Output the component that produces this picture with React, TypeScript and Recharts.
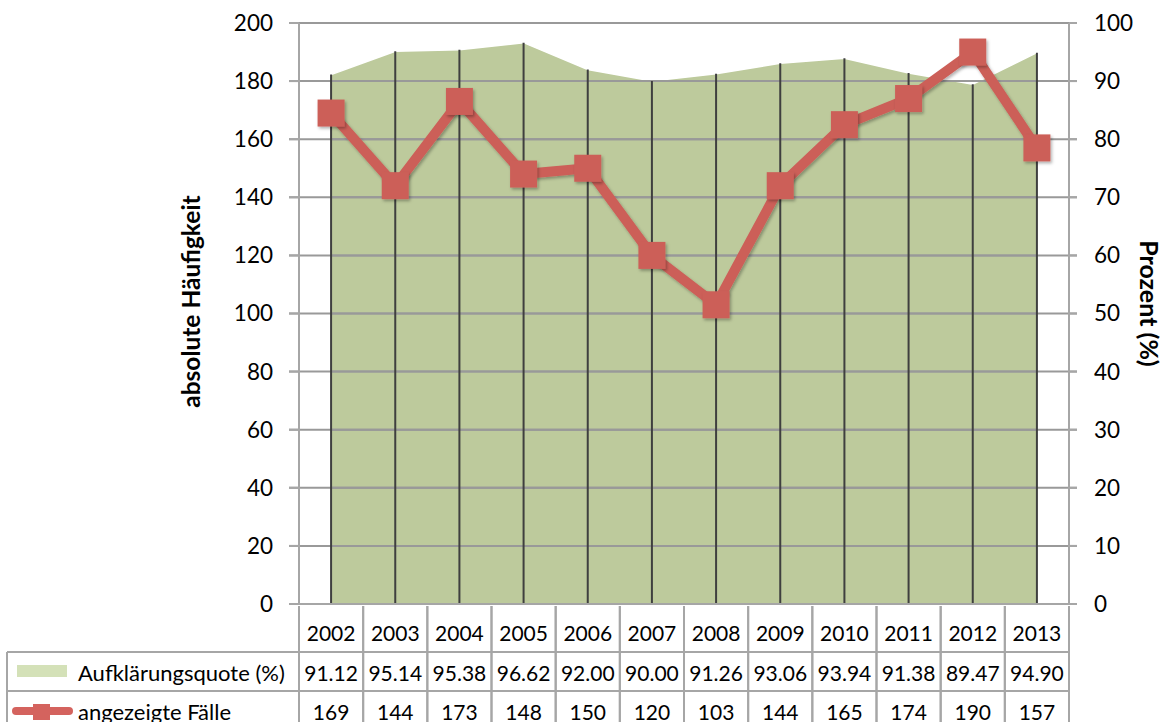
import React from 'react';
import { ComposedChart, Area, Line, XAxis, YAxis, ReferenceLine } from 'recharts';

const years = ['2002', '2003', '2004', '2005', '2006', '2007', '2008', '2009', '2010', '2011', '2012', '2013'];
const quoteValues = [91.12, 95.14, 95.38, 96.62, 92.0, 90.0, 91.26, 93.06, 93.94, 91.38, 89.47, 94.9];
const quoteLabels = ['91.12', '95.14', '95.38', '96.62', '92.00', '90.00', '91.26', '93.06', '93.94', '91.38', '89.47', '94.90'];
const caseValues = [169, 144, 173, 148, 150, 120, 103, 144, 165, 174, 190, 157];
const leftTicks = [0, 20, 40, 60, 80, 100, 120, 140, 160, 180, 200];
const rightTicks = [0, 10, 20, 30, 40, 50, 60, 70, 80, 90, 100];

const seriesQuote = 'Aufklärungsquote (%)';
const seriesCases = 'angezeigte Fälle';
const leftTitle = 'absolute Häufigkeit';
const rightTitle = 'Prozent (%)';

const data = years.map((y, i) => ({ year: y, quote: quoteValues[i], cases: caseValues[i] }));

const W = 1173;
const H = 722;
const LEFT_W = 299;
const RIGHT_W = 104;
const PLOT_L = LEFT_W;
const PLOT_R = W - RIGHT_W;

const FONT = 'Lato, "Open Sans", sans-serif';
const GRID = '#a6a6a6';
const GRID_IN = '#999999';
const GREEN = '#bdca9c';
const RED = '#cc5f58';
const BAND = (PLOT_R - PLOT_L) / years.length;

const TableTick = (props: any) => {
  const { x, y, index } = props;
  const l = x - BAND / 2;
  const r = x + BAND / 2;
  const r1 = y + 46;
  const r2 = y + 85;
  const bottom = y + 130;
  const txt = { fontFamily: FONT, fontSize: 21, fill: '#000' } as any;
  const leg = { fontFamily: FONT, fontSize: 22, fill: '#000' } as any;
  return (
    <g>
      <line x1={l} y1={y} x2={l} y2={bottom} stroke={GRID} strokeWidth={2} />
      <line x1={r} y1={y} x2={r} y2={bottom} stroke={GRID} strokeWidth={2} />
      <line x1={l} y1={r1} x2={r} y2={r1} stroke={GRID} strokeWidth={2} />
      <line x1={l} y1={r2} x2={r} y2={r2} stroke={GRID} strokeWidth={2} />
      <text x={x} y={y + 26} textAnchor="middle" dominantBaseline="central" style={txt}>{years[index]}</text>
      <text x={x} y={y + 66} textAnchor="middle" dominantBaseline="central" style={txt}>{quoteLabels[index]}</text>
      <text x={x} y={y + 105} textAnchor="middle" dominantBaseline="central" style={txt}>{caseValues[index]}</text>
      {index === 0 && (
        <g>
          <line x1={7} y1={r1} x2={l} y2={r1} stroke={GRID} strokeWidth={2} />
          <line x1={7} y1={r2} x2={l} y2={r2} stroke={GRID} strokeWidth={2} />
          <line x1={7} y1={r1} x2={7} y2={bottom} stroke={GRID} strokeWidth={2} />
          <rect x={17} y={y + 59} width={50} height={12} fill="#d4e1b8" />
          <text x={78} y={y + 66} dominantBaseline="central" style={leg}>{seriesQuote}</text>
          <line x1={16} y1={y + 105} x2={69} y2={y + 105} stroke="#d4635e" strokeWidth={8} strokeLinecap="round" />
          <rect x={33} y={y + 98} width={17} height={16} fill="#d4635e" />
          <text x={78} y={y + 105} dominantBaseline="central" style={leg}>{seriesCases}</text>
        </g>
      )}
    </g>
  );
};

// horizontal gridline: segment spans first to last category; extend it to the plot edges
const gridShape = (props: any) => {
  const { x1, y1, x2, y2 } = props;
  if ([x1, y1, x2, y2].some((v) => v == null || Number.isNaN(Number(v)))) return <g />;
  const a = Math.min(x1, x2) - BAND / 2 - 10;
  const b = Math.max(x1, x2) + BAND / 2 + 8;
  return <line x1={a} y1={y1} x2={b} y2={y2} stroke={GRID_IN} strokeWidth={2} />;
};

const SquareDot = (props: any) => {
  const { cx, cy, index } = props;
  if (cx == null || cy == null) return null;
  const s = 27;
  return <rect key={`d${index}`} x={cx - s / 2} y={cy - s / 2} width={s} height={s} fill={RED} filter="url(#shadow)" />;
};

const LeftTitle = (props: any) => {
  const { viewBox } = props;
  const cx = viewBox.x + viewBox.width - 109;
  const cy = viewBox.y + viewBox.height / 2 - 12;
  return (
    <text x={cx} y={cy} transform={`rotate(-90 ${cx} ${cy})`} textAnchor="middle" dominantBaseline="central"
      style={{ fontFamily: FONT, fontSize: 24.5, fontWeight: 700, fill: '#000' }}>{leftTitle}</text>
  );
};

const RightTitle = (props: any) => {
  const { viewBox } = props;
  const cx = viewBox.x + 81;
  const cy = viewBox.y + viewBox.height / 2 - 10;
  return (
    <text x={cx} y={cy} transform={`rotate(90 ${cx} ${cy})`} textAnchor="middle" dominantBaseline="central"
      style={{ fontFamily: FONT, fontSize: 25, fontWeight: 700, fill: '#000' }}>{rightTitle}</text>
  );
};

export default function App() {
  const first = years[0];
  const last = years[years.length - 1];
  return (
    <div style={{ position: 'absolute', left: 0, top: 0, width: W, height: H, background: '#fff', overflow: 'hidden' }}>
      <ComposedChart width={W} height={H} data={data} margin={{ top: 23, right: 0, bottom: 0, left: 0 }}>
        <defs>
          <filter id="shadow" x="-30%" y="-30%" width="160%" height="160%">
            <feDropShadow dx="1.5" dy="2" stdDeviation="1.8" floodColor="#000" floodOpacity="0.3" />
          </filter>
        </defs>
        <XAxis dataKey="year" height={118} interval={0} tickSize={0} tickLine={false}
          padding={{ left: BAND / 2, right: BAND / 2 }}
          axisLine={{ stroke: GRID, strokeWidth: 2 }} tick={<TableTick />} />
        <YAxis yAxisId="left" width={LEFT_W} domain={[0, 200]} ticks={leftTicks} interval={0}
          tickSize={10} tickMargin={16} axisLine={{ stroke: GRID, strokeWidth: 2 }} tickLine={{ stroke: GRID, strokeWidth: 2 }}
          tick={{ fontFamily: FONT, fontSize: 22.5, fill: '#000' }} label={<LeftTitle />} />
        <YAxis yAxisId="right" orientation="right" width={RIGHT_W} domain={[0, 100]} ticks={rightTicks} interval={0}
          tickSize={8} tickMargin={17} axisLine={{ stroke: GRID, strokeWidth: 2 }} tickLine={{ stroke: GRID, strokeWidth: 2 }}
          tick={{ fontFamily: FONT, fontSize: 22.5, fill: '#000', textAnchor: 'start' }} label={<RightTitle />} />
        <Area yAxisId="right" dataKey="quote" type="linear" fill={GREEN} fillOpacity={1} stroke="#ffffff" strokeWidth={1.5}
          isAnimationActive={false} dot={false} activeDot={false} />
        {rightTicks.map((t) => (
          <ReferenceLine key={`ga${t}`} yAxisId="right" segment={[{ x: first, y: t }, { x: last, y: t }]}
            stroke={GRID_IN} strokeWidth={2} />
        ))}
        {rightTicks.map((t) => (
          <ReferenceLine key={`gb${t}`} yAxisId="right" segment={[{ x: first, y: t }, { x: last, y: t }]}
            stroke={GRID_IN} strokeWidth={2} shape={gridShape} />
        ))}
        {years.map((yr, i) => (
          <ReferenceLine key={`v${yr}`} yAxisId="right" segment={[{ x: yr, y: 0 }, { x: yr, y: quoteValues[i] }]}
            stroke="#3f3f3f" strokeWidth={2} />
        ))}
        <Line yAxisId="left" dataKey="cases" type="linear" stroke={RED} strokeWidth={10} filter="url(#shadow)"
          dot={<SquareDot />} activeDot={false} isAnimationActive={false} />
      </ComposedChart>
    </div>
  );
}
